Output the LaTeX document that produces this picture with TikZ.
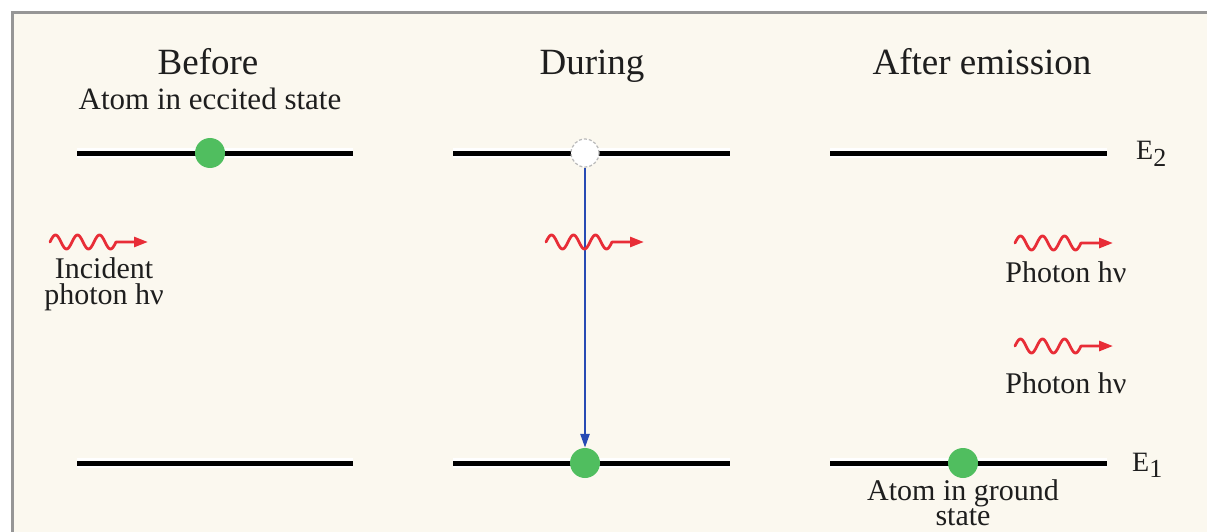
\documentclass[tikz,border=0pt]{standalone}
\usepackage{fontspec}
\setmainfont{Liberation Serif}
\usetikzlibrary{arrows.meta}
\definecolor{cream}{RGB}{251,248,239}
\definecolor{framegray}{RGB}{150,150,150}
\definecolor{atomgreen}{RGB}{80,190,95}
\definecolor{photonred}{RGB}{232,45,55}
\definecolor{transblue}{RGB}{40,75,180}
\definecolor{inktext}{RGB}{30,30,30}
\tikzset{
  level/.style={line width=5pt, black},
  halo/.style={line width=10pt, white},
  atom/.style={circle, fill=atomgreen, minimum size=30pt, inner sep=0pt},
  emptyatom/.style={circle, fill=white, draw=gray!55, densely dashed, line width=1.2pt, minimum size=28pt, inner sep=0pt},
  titletext/.style={font=\fontsize{37}{40}\selectfont, text=inktext, anchor=base, inner sep=0pt},
  labeltext/.style={font=\fontsize{30}{33}\selectfont, text=inktext, anchor=base, inner sep=0pt},
  leveltext/.style={font=\fontsize{28}{30}\selectfont, text=inktext, anchor=base west, inner sep=0pt},
  photon/.pic={
    \draw[photonred, line width=2.8pt, line cap=round, line join=round, -{Triangle[length=14pt,width=10pt]}]
      plot[domain=0:66, samples=80, smooth] (\x,{-7*sin(\x*16.3636)}) -- (98,0);
  },
  transition/.style={transblue, line width=2.6pt, -{Triangle[length=14pt,width=9pt]}}
}
\begin{document}
\begin{tikzpicture}[x=1pt, y=-1pt]
\useasboundingbox (0,0) rectangle (1207,532);
\fill[white] (0,0) rectangle (1207,532);
\fill[cream] (12,13) rectangle (1207,532);
\draw[framegray, line width=3pt] (12,532) -- (12,13) -- (1207,13);

% titles
\node[titletext] (tbefore) at (208,75) {Before};
\node[titletext] (tduring) at (592,75) {During};
\node[titletext] (tafter) at (982,75) {After emission};
\node[labeltext, font=\fontsize{31}{34}\selectfont] (lexcited) at (210,110) {Atom in eccited state};

% level end points
\coordinate (a2l) at (77,153);  \coordinate (a2r) at (353,153);
\coordinate (b2l) at (453,153); \coordinate (b2r) at (730,153);
\coordinate (c2l) at (830,153); \coordinate (c2r) at (1107,153);
\coordinate (a1l) at (77,463);  \coordinate (a1r) at (353,463);
\coordinate (b1l) at (453,463); \coordinate (b1r) at (730,463);
\coordinate (c1l) at (830,463); \coordinate (c1r) at (1107,463);

\foreach \l/\r in {a2l/a2r,b2l/b2r,c2l/c2r,a1l/a1r,b1l/b1r,c1l/c1r}{
  \draw[halo] (\l) -- (\r);
}
\foreach \l/\r in {a2l/a2r,b2l/b2r,c2l/c2r,a1l/a1r,b1l/b1r,c1l/c1r}{
  \draw[level] (\l) -- (\r);
}

% energy labels
\node[leveltext] (e2) at (1136,160) {E\raisebox{-6pt}{\fontsize{26}{28}\selectfont 2}};
\node[leveltext] (e1) at (1132,471) {E\raisebox{-6pt}{\fontsize{26}{28}\selectfont 1}};

% atoms
\node[atom] (atomA) at (210,153) {};
\node[emptyatom] (atomB) at (585,153) {};
\node[atom] (atomC) at (585,463) {};
\node[atom] (atomD) at (963,463) {};

% transition
\draw[transition] (atomB.south) -- (atomC.north);

% photons
\pic at (50,242) {photon};
\pic at (546,242) {photon};
\pic at (1015,243) {photon};
\pic at (1015,346) {photon};

% labels
\node[labeltext] (linc1) at (104,278) {Incident};
\node[labeltext] (linc2) at (104,304) {photon hν};
\node[labeltext] (lph1) at (1066,282) {Photon hν};
\node[labeltext] (lph2) at (1066,393) {Photon hν};
\node[labeltext] (lgr1) at (963,500) {Atom in ground};
\node[labeltext] (lgr2) at (963,525) {state};
\end{tikzpicture}
\end{document}
